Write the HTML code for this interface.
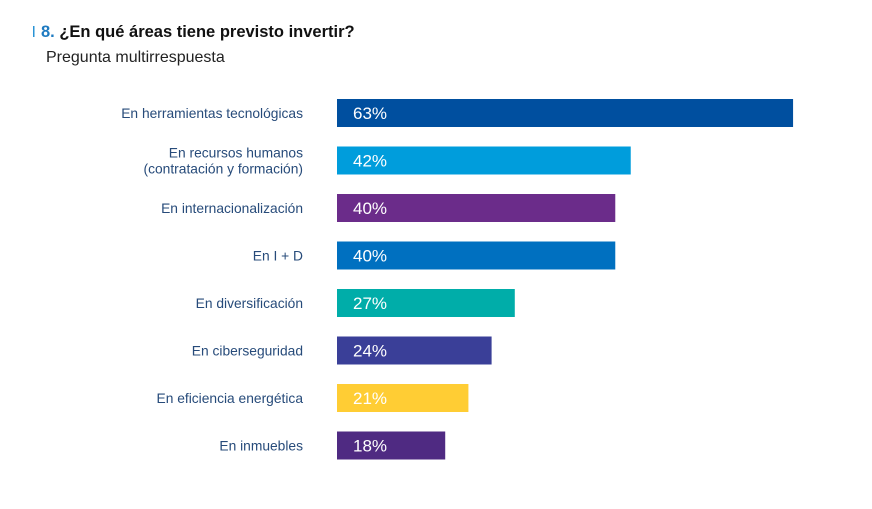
<!DOCTYPE html>
<html><head><meta charset="utf-8"><style>
body{margin:0;background:#fff;width:872px;height:504px;overflow:hidden;font-family:"Liberation Sans",sans-serif}
</style></head><body>
<svg width="872" height="504">
<rect x="33" y="26" width="1.5" height="11" fill="#2a93d5"/>
<text x="41" y="37" font-size="16.5" font-weight="bold" fill="#111"><tspan fill="#1f7bc1">8.</tspan> ¿En qué áreas tiene previsto invertir?</text>
<text x="46" y="62" font-size="16" fill="#222">Pregunta multirrespuesta</text>
<g id="bars"></g>
</svg>
<script>
const categories=[["En herramientas tecnológicas"],["En recursos humanos","(contratación y formación)"],["En internacionalización"],["En I + D"],["En diversificación"],["En ciberseguridad"],["En eficiencia energética"],["En inmuebles"]];
const values=[63,42,40,40,27,24,21,18];
const colors=["#004f9f","#009ddc","#6b2c8a","#0070c0","#00ada9","#3a3f98","#ffcd34","#4f2a82"];
const x0=337;
function xScale(v){return (v-4)*7.73;}
function yScale(i){return 99+i*47.5;}
const g=document.getElementById('bars');
const NS="http://www.w3.org/2000/svg";
values.forEach((v,i)=>{
  const y=yScale(i);
  const r=document.createElementNS(NS,'rect');
  r.setAttribute('x',x0);r.setAttribute('y',y);r.setAttribute('width',xScale(v));r.setAttribute('height',28);r.setAttribute('fill',colors[i]);
  
  
  g.appendChild(r);
  const t=document.createElementNS(NS,'text');
  t.setAttribute('x',353);t.setAttribute('y',y+20);t.setAttribute('font-size','17');t.setAttribute('fill','#fff');
  t.textContent=v+'%';
  
  
  g.appendChild(t);
  const lines=categories[i];
  lines.forEach((ln,j)=>{
    const l=document.createElementNS(NS,'text');
    l.setAttribute('x',303);l.setAttribute('text-anchor','end');l.setAttribute('font-size','13.8');l.setAttribute('fill','#274b7a');
    const base=lines.length===1? y+19 : y+11+j*16;
    l.setAttribute('y',base);
    l.textContent=ln;
    
    
    g.appendChild(l);
  });
});
</script>
</body></html>
